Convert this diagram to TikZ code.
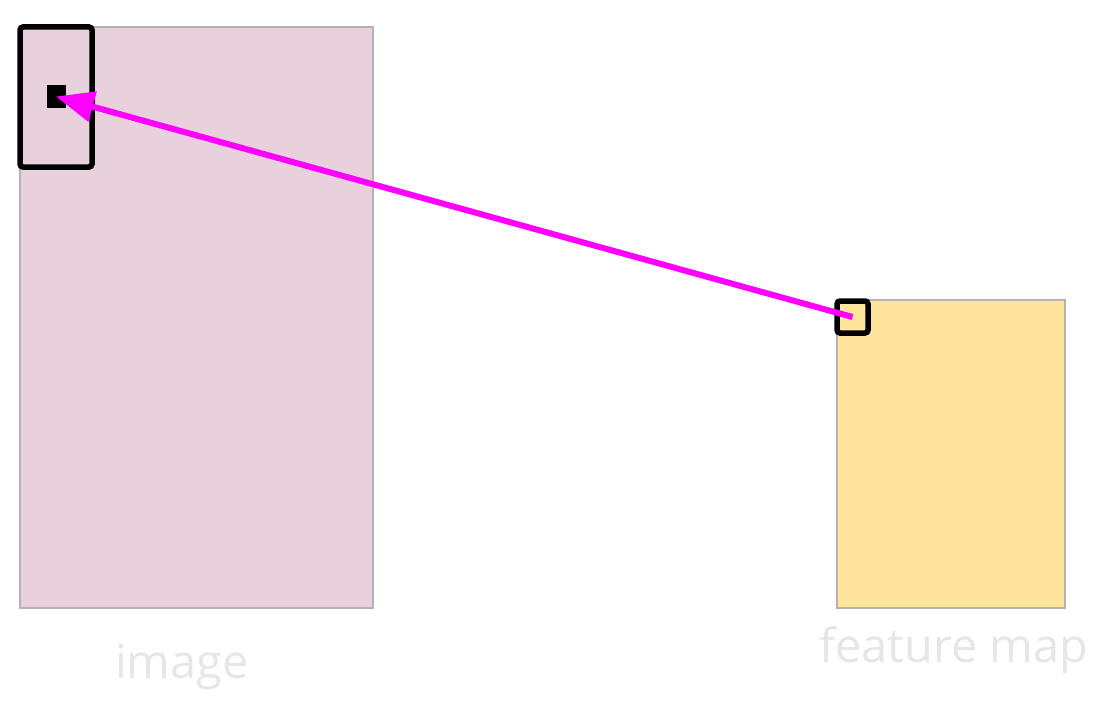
\documentclass[tikz,border=0pt]{standalone}
\usepackage{fontspec}
\setmainfont{Open Sans}
\usepackage{xcolor}
\usetikzlibrary{arrows.meta}
\definecolor{imgpink}{HTML}{E8D1DD}
\definecolor{mapyellow}{HTML}{FFE59C}
\definecolor{rimgray}{HTML}{B3B3B3}
\definecolor{labelgray}{HTML}{E6E6E6}
\definecolor{arrowmag}{HTML}{FF00FF}
\tikzset{
  plane/.style={draw=rimgray, line width=1pt, inner sep=0pt},
  markbox/.style={draw=black, line width=2.75pt, rounded corners=1.5pt, inner sep=0pt},
  caption/.style={text=labelgray, font=\fontsize{23.5}{26}\selectfont},
  backproj/.style={draw=arrowmag, line width=3pt, -{Triangle[length=19pt,width=15pt]}}
}

\begin{document}
\begin{tikzpicture}[x=0.5pt,y=-0.5pt]
  \useasboundingbox (0,0) rectangle (1112,722);
  % the two planes
  \node[plane, fill=imgpink, minimum width=176.5pt, minimum height=290.5pt] (img) at (196.5,317.5) {};
  \node[plane, fill=mapyellow, minimum width=114pt, minimum height=154pt] (fmap) at (951,454) {};
  % receptive field and cells
  \node[markbox, minimum width=36pt, minimum height=70pt] (field) at (56,97) {};
  \node[fill=black, inner sep=0pt, minimum width=9.5pt, minimum height=11.5pt] (icell) at (56,96.5) {};
  \node[markbox, minimum width=15.5pt, minimum height=16pt] (fcell) at (852.5,317) {};
  \draw[backproj] (fcell.center) -- (icell.center);
  % labels
  \node[caption] (imglabel) at (182,667) {image};
  \node[caption] (maplabel) at (954,650) {feature map};
\end{tikzpicture}
\end{document}
